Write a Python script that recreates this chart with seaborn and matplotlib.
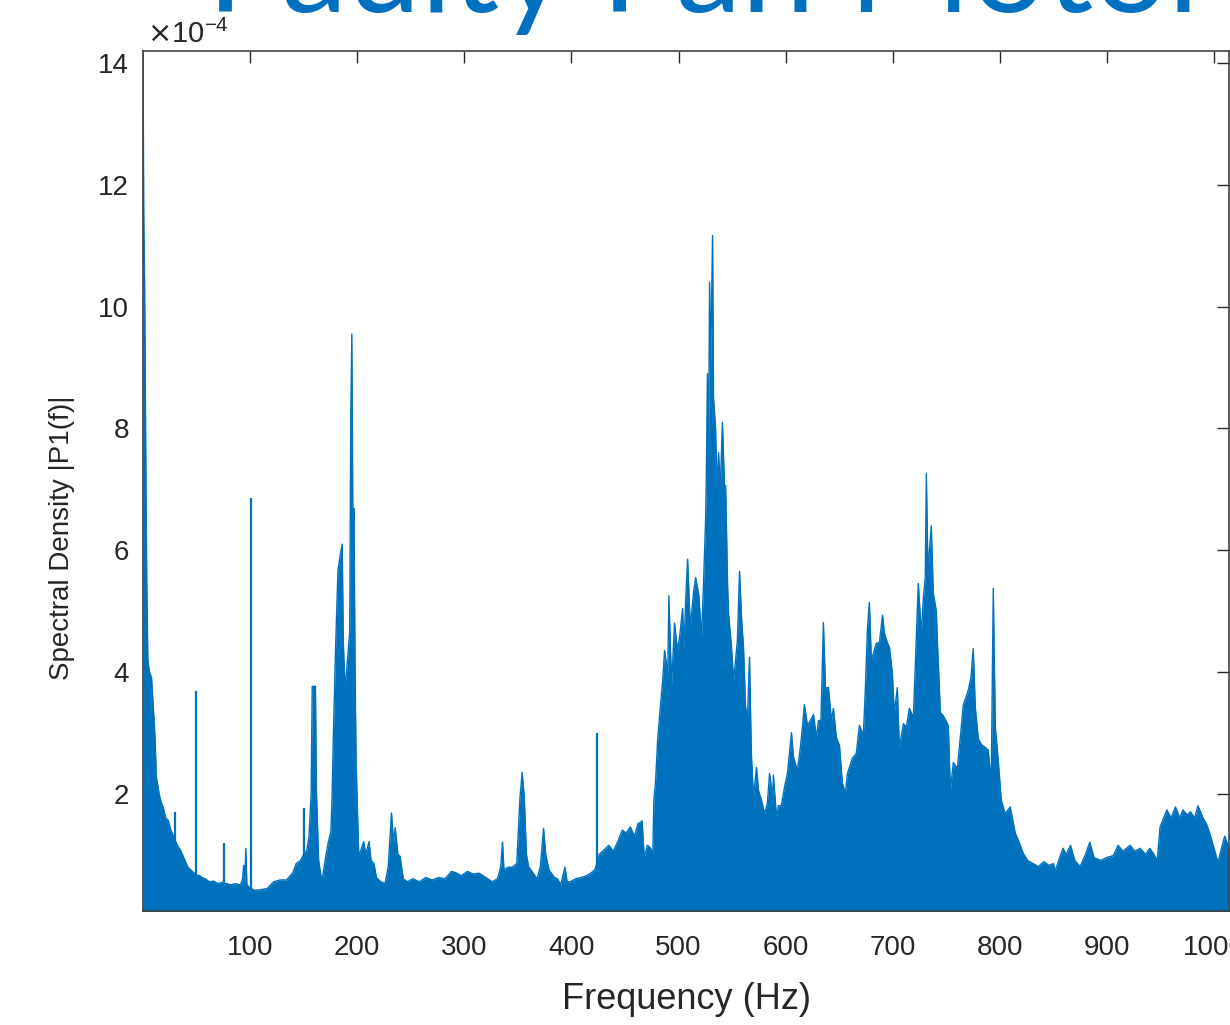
import matplotlib
matplotlib.use('Agg')
import matplotlib.pyplot as plt
import seaborn as sns
import numpy as np

# spectrum envelope: frequency (Hz) and level (x1e-4)
env_freq = [0, 0.7, 1.5, 2.5, 3.5, 4.5, 6, 8, 10, 11, 12.5, 15, 17, 19, 21, 23.5, 26, 29, 32, 35,
            38, 42, 46, 50, 53, 55, 58, 62, 66, 70, 74, 78, 82, 86, 91, 93, 94, 95, 96, 97,
            100, 104, 110, 116, 122, 128, 134, 140, 143, 147, 150, 153, 155, 157, 158, 161, 162, 164, 167, 170,
            173, 175.5, 176.5, 178, 180, 182, 184, 186, 187, 188.6, 190.5, 193, 194, 195, 196, 197, 198, 199, 200, 201.5,
            204, 206, 208, 211, 213, 215.6, 218, 222, 226, 229, 232, 234, 235.5, 238, 240, 243, 247, 252, 258, 264,
            270, 276, 282, 288, 292, 297, 303, 308, 314, 320, 326, 331, 334, 335.7, 337, 341, 345, 349, 352, 354,
            356, 358, 360, 364, 368, 371, 374, 376, 379, 384, 387, 390, 394, 396, 399, 404, 409, 414, 418, 422,
            426, 429, 432, 435, 439, 443, 447.6, 451, 455, 459, 462, 466, 468, 471, 474, 476, 477, 478.6, 480.5, 483,
            485, 487, 490, 491, 493.5, 494.5, 496.3, 499, 501, 503.8, 505, 506.6, 508.5, 511, 514, 516, 519, 521.5, 523.4, 525.3,
            526, 527, 528, 529, 530, 531.8, 532.7, 534.6, 536, 537.4, 539, 541, 543, 544, 545.8, 546.7, 549.5, 551.4, 553, 555,
            557, 558.8, 560.7, 562.6, 564.4, 566.3, 568, 570, 572.8, 574.7, 577.5, 580.3, 583, 585, 588, 588.6, 591.5, 593.3, 596, 598.9,
            601.7, 605.5, 607.3, 611, 613.8, 615.7, 617.5, 620.4, 623.2, 626, 628.8, 630.7, 633, 635.3, 637.2, 640, 642.8, 644.6, 647.4, 650.3,
            653, 655.8, 657.7, 662.4, 666, 668.9, 672.6, 674.5, 676.4, 678.2, 680, 682, 684.7, 687.6, 690.5, 692.3, 695, 697, 699.7, 701.5,
            704.3, 706.2, 710, 712.7, 715.6, 719.3, 722, 723.9, 726.7, 728.6, 730.4, 731.4, 733, 734, 736, 737.9, 740.7, 741.6, 744.5, 747.2,
            751.9, 753.8, 756.6, 760.3, 763, 765.9, 770.6, 773, 775.2, 777.1, 779.9, 783, 786.4, 789.2, 792, 793.9, 795.8, 798.5, 801.4, 805,
            809.7, 814.4, 818, 821.8, 826, 831, 836, 841, 846, 850, 851.7, 855, 859, 862, 866, 870, 875, 880, 884, 888,
            894, 900, 906, 910.5, 915, 921.6, 926, 931, 936, 940, 944, 947, 949.6, 953, 956, 960, 964, 968, 971, 975,
            978, 982, 985, 989.7, 993, 996, 1000, 1003.7, 1007, 1010, 1014]
env_level = [14.2, 11.5, 10.4, 7.8, 5.5, 4.2, 4.0, 3.9, 3.3, 3.0, 2.27, 2.0, 1.85, 1.77, 1.6, 1.56, 1.4, 1.28, 1.15, 1.07,
             0.95, 0.79, 0.72, 0.66, 0.65, 0.62, 0.6, 0.55, 0.56, 0.52, 0.54, 0.52, 0.5, 0.52, 0.5, 0.6, 0.82, 0.55, 1.1, 0.5,
             0.45, 0.41, 0.42, 0.44, 0.55, 0.58, 0.58, 0.7, 0.85, 0.9, 1.0, 1.07, 1.3, 2.0, 3.76, 3.76, 2.0, 0.9, 0.55, 0.9,
             1.2, 1.38, 1.94, 3.14, 4.5, 5.66, 5.9, 6.1, 4.5, 3.73, 4.09, 4.66, 8.2, 9.55, 6.25, 6.68, 4.0, 2.5, 1.86, 0.97,
             1.1, 1.21, 1.0, 1.21, 0.9, 0.85, 0.62, 0.55, 0.52, 0.8, 1.68, 1.2, 1.44, 1.0, 0.97, 0.6, 0.55, 0.6, 0.55, 0.62,
             0.58, 0.62, 0.6, 0.72, 0.7, 0.65, 0.72, 0.68, 0.69, 0.62, 0.55, 0.6, 0.8, 1.2, 0.75, 0.79, 0.79, 0.85, 1.94, 2.35,
             1.94, 1.0, 0.8, 0.7, 0.6, 0.8, 1.43, 1.0, 0.75, 0.62, 0.6, 0.5, 0.79, 0.55, 0.55, 0.6, 0.62, 0.65, 0.69, 0.75,
             1.0, 1.05, 1.1, 1.15, 1.05, 1.2, 1.4, 1.35, 1.45, 1.3, 1.5, 1.55, 0.95, 1.15, 1.1, 1.0, 1.89, 2.2, 2.87, 3.42,
             3.8, 4.35, 3.97, 5.25, 3.8, 4.14, 4.8, 4.35, 4.57, 5.04, 4.35, 5.14, 5.85, 4.73, 5.3, 5.55, 5.25, 4.57, 5.47, 6.5,
             7.2, 8.9, 7.5, 10.4, 9.0, 11.17, 8.5, 8.0, 7.0, 7.6, 7.0, 8.1, 7.0, 7.06, 5.45, 4.96, 4.4, 3.86, 4.14, 4.52,
             5.65, 4.9, 4.4, 3.42, 3.25, 4.24, 2.66, 1.94, 2.43, 2.05, 1.89, 1.67, 1.84, 2.33, 1.94, 2.3, 1.61, 1.8, 1.8, 2.1,
             2.33, 3.0, 2.6, 2.38, 2.76, 3.09, 3.46, 3.12, 3.2, 3.3, 2.92, 3.2, 3.2, 4.81, 3.74, 3.74, 3.2, 3.4, 2.92, 2.79,
             2.17, 2.0, 2.33, 2.58, 2.66, 3.12, 2.96, 3.74, 4.71, 5.14, 4.22, 4.3, 4.47, 4.48, 4.93, 4.63, 4.48, 4.4, 3.97, 3.32,
             3.74, 2.76, 3.15, 3.09, 3.4, 3.25, 4.57, 5.45, 4.63, 5.2, 5.55, 7.26, 5.6, 5.91, 6.4, 5.29, 5.0, 4.55, 3.33, 3.28,
             3.12, 2.05, 2.51, 2.41, 2.9, 3.45, 3.7, 3.9, 4.38, 3.42, 2.9, 2.8, 2.76, 2.71, 2.17, 5.37, 3.09, 2.55, 1.89, 1.67,
             1.78, 1.35, 1.2, 1.02, 0.9, 0.85, 0.8, 0.88, 0.82, 0.85, 0.73, 0.9, 1.1, 1.0, 1.15, 0.9, 0.8, 1.0, 1.2, 0.95,
             0.9, 0.95, 0.98, 1.15, 1.05, 1.15, 1.05, 1.1, 1.0, 1.1, 1.0, 0.9, 1.45, 1.6, 1.73, 1.6, 1.78, 1.6, 1.73, 1.65,
             1.7, 1.6, 1.8, 1.6, 1.5, 1.35, 1.1, 0.87, 1.1, 1.3, 1.1]

# narrow isolated lines standing above the floor
spike_freq = [30, 49.6, 75.6, 100.6, 150.5, 424.3]
spike_level = [1.69, 3.68, 1.18, 6.86, 1.77, 3.0]

x_ticks = [100, 200, 300, 400, 500, 600, 700, 800, 900, 1000]
y_ticks = [2, 4, 6, 8, 10, 12, 14]

sns.set_style('white')
plt.rcParams['font.family'] = ['Liberation Sans', 'DejaVu Sans']

blue = '#0072BD'
ink = '#262626'

fig = plt.figure(figsize=(12.3, 10.25), dpi=100)
ax = fig.add_axes([143 / 1230, 1 - 911 / 1025, (1229 - 143) / 1230, (911 - 51) / 1025])

ax.fill_between(env_freq, 0, env_level, color=blue, lw=0)
sns.lineplot(x=env_freq, y=env_level, color=blue, lw=1.0, ax=ax, sort=False, estimator=None)
ax.vlines(spike_freq, 0, spike_level, color=blue, lw=1.6)

ax.set_xlim(0, 1014)
ax.set_ylim(0.07, 14.2)
ax.set_xticks(x_ticks)
ax.set_yticks(y_ticks)
ax.set_yticklabels([str(v) for v in y_ticks])

ax.tick_params(direction='in', length=8.5, width=1, top=True, right=True,
               labelsize=20, colors=ink)
ax.tick_params(axis='x', pad=17)
ax.tick_params(axis='y', pad=10)
for s in ax.spines.values():
    s.set_color('#404040')
    s.set_linewidth(1.2)

# exponent shown above the y axis, MATLAB style
ax.text(0.004, 1.0093, r'$\times\mathdefault{10^{-4}}$', transform=ax.transAxes,
        fontsize=21, color=ink, ha='left', va='baseline')

ax.set_xlabel('Frequency (Hz)', fontsize=26, color=ink)
ax.set_ylabel('Spectral Density |P1(f)|', fontsize=20, color=ink)
ax.xaxis.set_label_coords(0.5, -0.082)
ax.yaxis.set_label_coords(-0.063, 0.434)

# slide title, cut by the top edge of the crop
fig.text(207 / 1230, 1 - 12 / 1025, 'Faulty Fan Motor', fontsize=95, color='#0070C0',
         family=['Lato', 'DejaVu Sans'], ha='left', va='baseline')

fig.savefig('out.png', dpi=100)
plt.close()
